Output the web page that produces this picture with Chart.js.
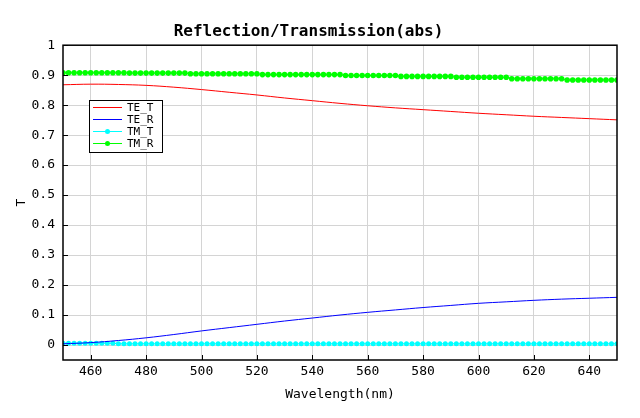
<!DOCTYPE html>
<html>
<head>
<meta charset="utf-8">
<script src="https://cdn.jsdelivr.net/npm/chart.js@4"></script>
<style>
  html, body { margin: 0; padding: 0; background: #fff; }
  #wrap { width: 640px; height: 418px; }
</style>
</head>
<body>
<div id="wrap"><canvas id="rtChart" width="640" height="418"></canvas></div>
<script>
// wavelengths for the smooth TE curves (every 10 nm)
const lineWl = [450, 460, 470, 480, 490, 500, 510, 520, 530, 540, 550,
  560, 570, 580, 590, 600, 610, 620, 630, 640, 650];
const teT = [0.868, 0.870, 0.869, 0.866, 0.860, 0.852, 0.843, 0.834, 0.824, 0.815, 0.806,
  0.798, 0.791, 0.785, 0.779, 0.773, 0.768, 0.763, 0.759, 0.755, 0.751];
const teR = [0.004, 0.008, 0.015, 0.024, 0.035, 0.047, 0.058, 0.069, 0.080, 0.090, 0.100,
  0.109, 0.117, 0.125, 0.132, 0.139, 0.144, 0.149, 0.153, 0.156, 0.159];

// wavelengths for the marker series (every 2 nm)
const markWl = [450, 452, 454, 456, 458, 460, 462, 464, 466, 468, 470, 472, 474, 476, 478,
  480, 482, 484, 486, 488, 490, 492, 494, 496, 498, 500, 502, 504, 506, 508, 510, 512, 514,
  516, 518, 520, 522, 524, 526, 528, 530, 532, 534, 536, 538, 540, 542, 544, 546, 548, 550,
  552, 554, 556, 558, 560, 562, 564, 566, 568, 570, 572, 574, 576, 578, 580, 582, 584, 586,
  588, 590, 592, 594, 596, 598, 600, 602, 604, 606, 608, 610, 612, 614, 616, 618, 620, 622,
  624, 626, 628, 630, 632, 634, 636, 638, 640, 642, 644, 646, 648, 650];
const tmT = [0.006, 0.006, 0.006, 0.006, 0.006, 0.006, 0.006, 0.006, 0.006, 0.006,
  0.004, 0.004, 0.004, 0.004, 0.004, 0.004, 0.004, 0.004, 0.004, 0.004, 0.004, 0.004,
  0.004, 0.004, 0.004, 0.004, 0.004, 0.004, 0.004, 0.004, 0.004, 0.004, 0.004, 0.004,
  0.004, 0.004, 0.004, 0.004, 0.004, 0.004, 0.004, 0.004, 0.004, 0.004, 0.004, 0.004,
  0.004, 0.004, 0.004, 0.004, 0.004, 0.004, 0.004, 0.004, 0.004, 0.004, 0.004, 0.004,
  0.004, 0.004, 0.004, 0.004, 0.004, 0.004, 0.004, 0.004, 0.004, 0.004, 0.004, 0.004,
  0.004, 0.004, 0.004, 0.004, 0.004, 0.004, 0.004, 0.004, 0.004, 0.004, 0.004, 0.004,
  0.004, 0.004, 0.004, 0.004, 0.004, 0.004, 0.004, 0.004, 0.004, 0.004, 0.004, 0.004,
  0.004, 0.004, 0.004, 0.004, 0.004, 0.004, 0.004];
const tmR = [0.908, 0.908, 0.908, 0.908, 0.908, 0.908, 0.908, 0.908, 0.908, 0.908, 0.908, 0.908,
  0.907, 0.907, 0.907, 0.907, 0.907, 0.907, 0.907, 0.907, 0.907, 0.907, 0.907,
  0.905, 0.905, 0.905, 0.905, 0.905, 0.905, 0.905, 0.905, 0.905, 0.905, 0.905, 0.905, 0.905,
  0.902, 0.902, 0.902, 0.902, 0.902, 0.902, 0.902, 0.902, 0.902, 0.902, 0.902, 0.902, 0.902, 0.902, 0.902,
  0.899, 0.899, 0.899, 0.899, 0.899, 0.899, 0.899, 0.899, 0.899, 0.899,
  0.896, 0.896, 0.896, 0.896, 0.896, 0.896, 0.896, 0.896, 0.896, 0.896,
  0.893, 0.893, 0.893, 0.893, 0.893, 0.893, 0.893, 0.893, 0.893, 0.893,
  0.888, 0.888, 0.888, 0.888, 0.888, 0.888, 0.888, 0.888, 0.888, 0.888,
  0.884, 0.884, 0.884, 0.884, 0.884, 0.884, 0.884, 0.884, 0.884, 0.884];

const xTicks = [460, 480, 500, 520, 540, 560, 580, 600, 620, 640];
const yTicks = [0, 0.1, 0.2, 0.3, 0.4, 0.5, 0.6, 0.7, 0.8, 0.9, 1];
const yTickLabels = ['0', '0.1', '0.2', '0.3', '0.4', '0.5', '0.6', '0.7', '0.8', '0.9', '1'];

const MONO = "'DejaVu Sans Mono', 'Liberation Mono', monospace";

const pairs = (xs, ys) => xs.map((x, i) => ({ x, y: ys[i] }));

// frame, inward tick marks and the boxed legend inside the plot
const framePlugin = {
  id: 'frame',
  afterDraw(chart) {
    const { ctx, chartArea: a, scales } = chart;
    ctx.save();
    ctx.strokeStyle = '#000';
    ctx.lineWidth = 1;
    ctx.beginPath();
    xTicks.forEach(v => {
      const px = Math.round(scales.x.getPixelForValue(v)) + 0.5;
      ctx.moveTo(px, a.bottom);
      ctx.lineTo(px, a.bottom - 5);
    });
    yTicks.forEach(v => {
      const py = Math.round(scales.y.getPixelForValue(v)) + 0.5;
      ctx.moveTo(a.left, py);
      ctx.lineTo(a.left + 5, py);
    });
    ctx.stroke();
    ctx.lineWidth = 1.5;
    ctx.strokeRect(a.left, a.top, a.right - a.left, a.bottom - a.top);

    // legend box
    const bx = 89.5, by = 100.5, bw = 73, bh = 52;
    ctx.fillStyle = '#fff';
    ctx.fillRect(bx, by, bw, bh);
    ctx.lineWidth = 1;
    ctx.strokeRect(bx, by, bw, bh);
    ctx.font = '11px ' + MONO;
    ctx.textBaseline = 'middle';
    chart.data.datasets.forEach((ds, i) => {
      const y = 107 + i * 12;
      ctx.strokeStyle = ds.borderColor;
      ctx.beginPath();
      ctx.moveTo(93, y + 0.5);
      ctx.lineTo(122, y + 0.5);
      ctx.stroke();
      if (ds.pointRadius > 0) {
        ctx.fillStyle = ds.borderColor;
        ctx.beginPath();
        ctx.arc(107.5, y + 0.5, 2.5, 0, Math.PI * 2);
        ctx.fill();
      }
      ctx.fillStyle = '#000';
      ctx.fillText(ds.label, 127, y + 1);
    });
    ctx.restore();
  }
};

new Chart(document.getElementById('rtChart').getContext('2d'), {
  type: 'line',
  data: {
    datasets: [
      { label: 'TE_T', data: pairs(lineWl, teT), borderColor: '#ff0000', borderWidth: 1,
        pointRadius: 0, tension: 0.4 },
      { label: 'TE_R', data: pairs(lineWl, teR), borderColor: '#0000ff', borderWidth: 1,
        pointRadius: 0, tension: 0.4 },
      { label: 'TM_T', data: pairs(markWl, tmT), borderColor: '#00ffff', backgroundColor: '#00ffff',
        borderWidth: 1, pointRadius: 2.5, pointBorderWidth: 0 },
      { label: 'TM_R', data: pairs(markWl, tmR), borderColor: '#00ff00', backgroundColor: '#00ff00',
        borderWidth: 1, pointRadius: 2.8, pointBorderWidth: 0 }
    ]
  },
  options: {
    responsive: false,
    animation: false,
    layout: { padding: { left: 0, right: 23, top: 0, bottom: 16 } },
    plugins: {
      legend: { display: false },
      tooltip: { enabled: false },
      title: {
        display: true,
        text: 'Reflection/Transmission(abs)',
        color: '#000',
        font: { family: MONO, size: 16, weight: 'bold', lineHeight: 1.2 },
        padding: { top: 22, bottom: 4 }
      }
    },
    scales: {
      x: {
        type: 'linear',
        min: 450,
        max: 650,
        afterBuildTicks: s => { s.ticks = xTicks.map(v => ({ value: v })); },
        afterFit: s => { s.height = 42; },
        ticks: { color: '#000', font: { family: MONO, size: 13 }, padding: 4, maxRotation: 0,
          callback: v => String(v) },
        grid: { color: '#d4d4d4', drawTicks: false },
        border: { display: false },
        title: { display: true, text: 'Wavelength(nm)', color: '#000',
          font: { family: MONO, size: 13 }, padding: { top: 2, bottom: 0 } }
      },
      y: {
        min: -0.05,
        max: 1,
        afterBuildTicks: s => { s.ticks = yTicks.map(v => ({ value: v })); },
        afterFit: s => { s.width = 63; },
        ticks: { color: '#000', font: { family: MONO, size: 13 }, padding: 8,
          callback: v => yTickLabels[yTicks.findIndex(t => Math.abs(t - v) < 1e-9)] },
        grid: { color: '#d4d4d4', drawTicks: false },
        border: { display: false },
        title: { display: true, text: 'T', color: '#000',
          font: { family: MONO, size: 13 }, padding: { top: 14, bottom: 0 } }
      }
    }
  },
  plugins: [framePlugin]
});
</script>
</body>
</html>
